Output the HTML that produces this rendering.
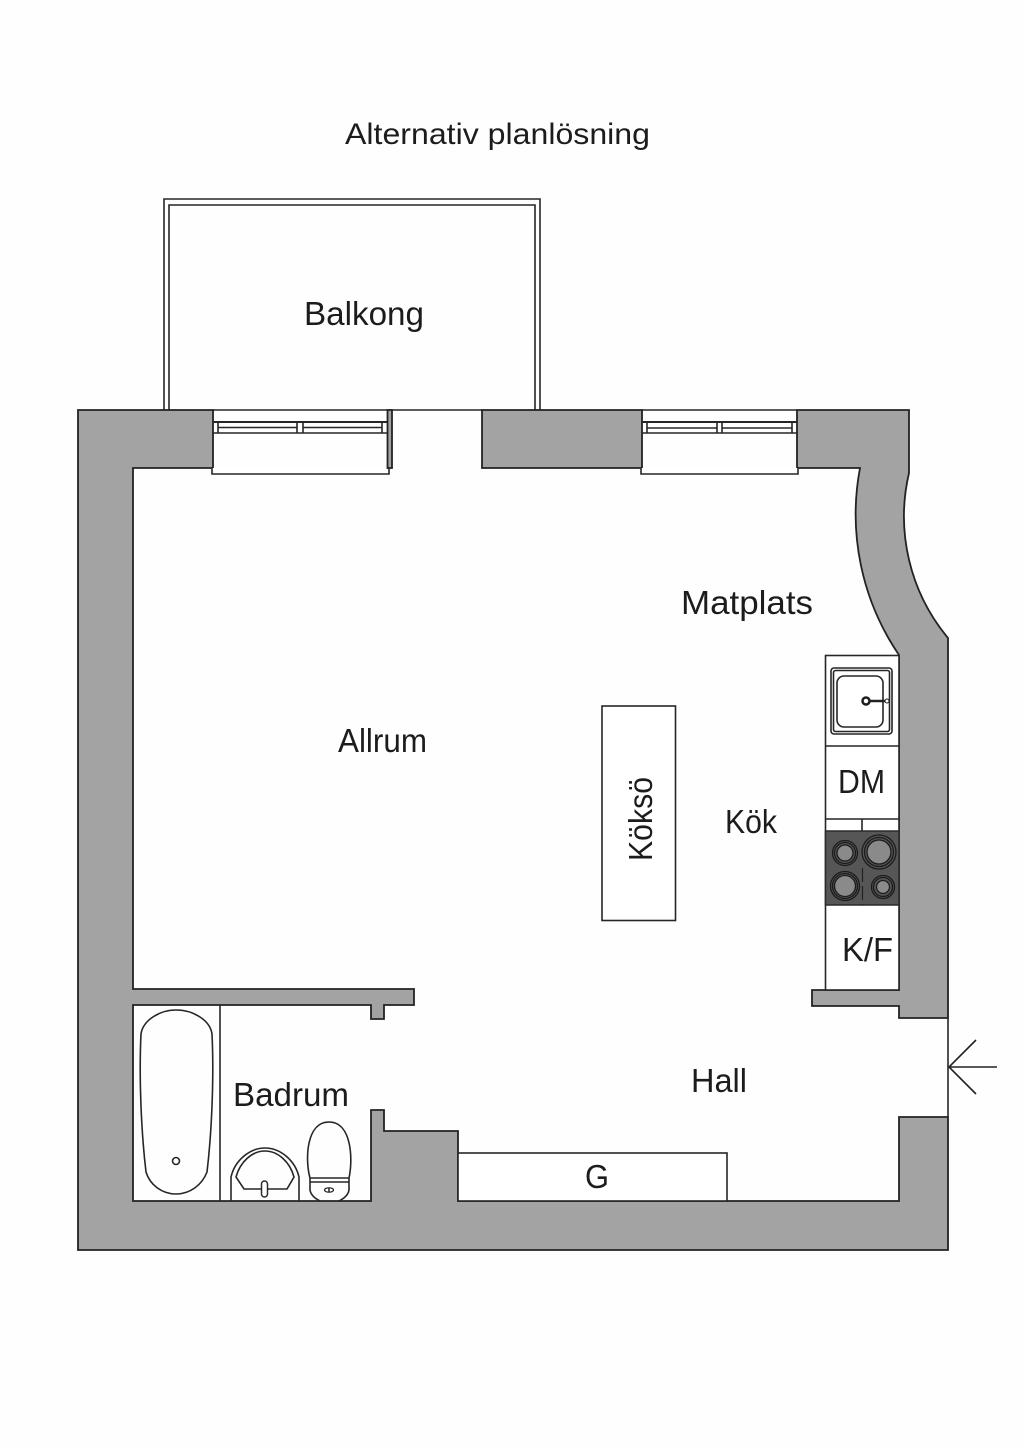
<!DOCTYPE html>
<html lang="sv">
<head>
<meta charset="utf-8">
<title>Alternativ planlösning</title>
<style>
html,body{margin:0;padding:0;background:#fefefe;}
svg{display:block;}
text{font-family:"Liberation Sans",sans-serif;font-size:33px;fill:#1c1c1c;}
.l{fill:none;stroke:#262626;stroke-width:1.6;}
.w{fill:#fff;stroke:#262626;stroke-width:1.6;}
.g{fill:#a3a3a3;stroke:#222;stroke-width:1.8;stroke-linejoin:miter;}
</style>
</head>
<body>
<svg xmlns="http://www.w3.org/2000/svg" width="1024" height="1448" viewBox="0 0 1024 1448">
<rect width="1024" height="1448" fill="#fefefe"/>

<!-- balcony -->
<path class="l" d="M164 410V199H540V410"/>
<path class="l" d="M169 410V205H535V410"/>

<!-- top line across openings -->
<path class="l" d="M213 410H482"/>
<path class="l" d="M642 410H797"/>

<!-- walls -->
<path class="g" d="M78 410H213V468H133V989H414V1005H384V1019H371V1005H133V1201H371V1110H384V1131H458V1201H899V1117H948V1250H78Z"/>
<path class="g" d="M482 410H642V468H482Z"/>
<path class="g" d="M797 410H909V473A190 190 0 0 0 948 638V1018H899V1006H812V990H899V655A250 250 0 0 1 860 468H797Z"/>
<path class="l" d="M948 1018V1117"/>

<!-- window 1 -->
<path class="w" d="M212 468V474H389V468"/>
<rect x="387.500" y="410" width="4.500" height="58" class="g"/>
<path class="l" d="M213 422H387M218 427.500H297M303 427.500H382M213 433H387M218 422V433M297 422V433M303 422V433M382 422V433"/>
<path d="M213 422H387" stroke="#262626" stroke-width="2" fill="none"/>

<!-- window 2 -->
<path class="w" d="M641 468V474H798V468"/>
<path class="l" d="M642 428H642M647 428H717M722 428H792M642 433H797M647 422V433M717 422V433M722 422V433M792 422V433"/>
<path d="M642 422H797" stroke="#262626" stroke-width="2" fill="none"/>

<!-- kitchen units -->
<rect class="w" x="825.500" y="655.500" width="73.500" height="334.500"/>
<path class="l" d="M825.500 746H899M825.500 819H899M862 819V831"/>
<rect class="l" x="831" y="668" width="61" height="66" rx="3"/>
<rect class="l" x="833.500" y="670.500" width="56" height="61" rx="2"/>
<rect class="l" x="837" y="676" width="46" height="51" rx="7"/>
<circle cx="866" cy="701" r="3.500" fill="#fff" stroke="#1c1c1c" stroke-width="2.500"/>
<path d="M869 701H885" stroke="#222" stroke-width="2.500" fill="none"/>
<circle cx="887" cy="701" r="2" fill="#fff" stroke="#222"/>

<!-- hob -->
<rect x="825.500" y="831" width="73.500" height="74" fill="#565656" stroke="#2a2a2a" stroke-width="1.500"/>
<path d="M862.500 868V905" stroke="#222" stroke-width="1.200" stroke-dasharray="14 4" fill="none"/>
<g stroke="#1c1c1c" stroke-width="1.300">
<circle cx="845" cy="853" r="12.500" fill="#565656"/><circle cx="845" cy="853" r="10.500" fill="#565656"/><circle cx="845" cy="853" r="8" fill="#8a8a8a"/>
<circle cx="879" cy="852" r="17" fill="#565656"/><circle cx="879" cy="852" r="14.500" fill="#565656"/><circle cx="879" cy="852" r="12" fill="#8a8a8a"/>
<circle cx="845" cy="886" r="14.500" fill="#565656"/><circle cx="845" cy="886" r="12.500" fill="#565656"/><circle cx="845" cy="886" r="10.500" fill="#8a8a8a"/>
<circle cx="883" cy="887" r="11.500" fill="#565656"/><circle cx="883" cy="887" r="9.500" fill="#565656"/><circle cx="883" cy="887" r="6.500" fill="#8a8a8a"/>
</g>

<!-- island -->
<rect class="w" x="602" y="706" width="73.500" height="214.500"/>

<!-- wardrobe -->
<rect class="w" x="458" y="1153" width="269" height="48"/>

<!-- bathroom -->
<path class="l" d="M220 1005V1201"/>
<path class="l" d="M141 1034C143 1020 160 1010 176 1010C193 1010 210 1020 212 1034C214 1075 212 1130 207 1172C202 1185 190 1194 176 1194C162 1194 150 1185 146 1172C141 1130 139 1075 141 1034Z"/>
<circle class="l" cx="176" cy="1161" r="3.500"/>
<path class="l" d="M231 1201V1177C235 1160 250 1148 265 1148C280 1148 295 1160 299 1177V1201"/>
<path class="l" d="M236 1177C240 1162 252 1151 265 1151C278 1151 290 1162 294 1177L287 1189H244Z"/>
<rect x="261.500" y="1181" width="6" height="16" rx="3" fill="#fff" stroke="#2a2a2a" stroke-width="1.500"/>
<path class="l" d="M310 1178C305 1160 306 1122 329 1122C352 1122 353 1160 349 1178"/>
<path class="l" d="M310 1178H349M310 1182H349M310 1178V1190C311 1196 316 1199 320 1201M349 1178V1190C348 1196 343 1199 339 1201"/>
<ellipse cx="329" cy="1190" rx="4.500" ry="2.200" fill="#fff" stroke="#222" stroke-width="1.200"/>
<path d="M329 1188V1192" stroke="#222" stroke-width="1.500"/>

<!-- entrance arrow -->
<path d="M997 1067H949M976 1040L949 1067L976 1094" fill="none" stroke="#222" stroke-width="1.600"/>

<!-- labels -->
<text x="345" y="144" style="font-size:30px" textLength="305" lengthAdjust="spacingAndGlyphs">Alternativ planlösning</text>
<text x="304" y="325" textLength="120" lengthAdjust="spacingAndGlyphs">Balkong</text>
<text x="681" y="614" textLength="132" lengthAdjust="spacingAndGlyphs">Matplats</text>
<text x="338" y="752" textLength="89" lengthAdjust="spacingAndGlyphs">Allrum</text>
<text x="725" y="833" textLength="52" lengthAdjust="spacingAndGlyphs">Kök</text>
<text x="691" y="1092" textLength="56" lengthAdjust="spacingAndGlyphs">Hall</text>
<text x="233" y="1106" textLength="116" lengthAdjust="spacingAndGlyphs">Badrum</text>
<text x="585" y="1188" textLength="24" lengthAdjust="spacingAndGlyphs">G</text>
<text x="838" y="793" textLength="47" lengthAdjust="spacingAndGlyphs">DM</text>
<text x="842" y="961" textLength="51" lengthAdjust="spacingAndGlyphs">K/F</text>
<text transform="translate(652 861) rotate(-90)" x="0" y="0" textLength="84" lengthAdjust="spacingAndGlyphs">Köksö</text>
</svg>
</body>
</html>
